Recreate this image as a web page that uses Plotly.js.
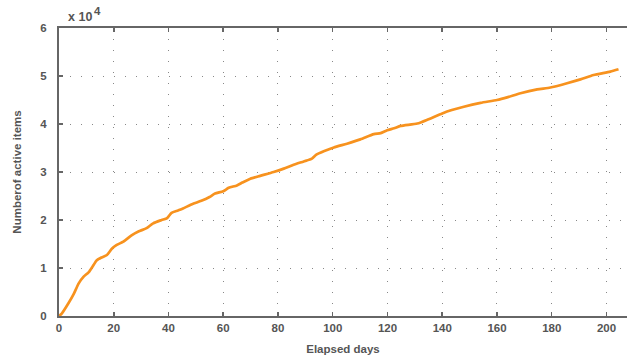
<!DOCTYPE html>
<html>
<head>
<meta charset="utf-8">
<script src="https://cdn.plot.ly/plotly-3.0.1.min.js"></script>
<style>html,body{margin:0;padding:0;background:#fff;}#chart{width:627px;height:363px;}</style>
</head>
<body>
<div id="chart"></div>
<script>
// Elapsed days and number of active items (in units of 10^4)
const elapsedDays = [0, 1, 3.5, 5.3, 7.2, 9, 10.8, 12.6, 13.8, 15.6, 17.5, 19.3, 21.1, 23.5, 26.5, 29, 32, 34.4, 37.5, 39.5, 41.1, 43.5, 45.3, 48.6, 52, 55, 57, 60, 62, 65, 67, 69.9, 73.5, 78.4, 82.1, 85.7, 89.4, 92.4, 94, 96.7, 100.4, 105.2, 110.1, 115, 117.5, 119.9, 122.4, 124.8, 130.9, 135, 140, 143.5, 147.9, 154, 160, 164, 168.6, 174.7, 179.5, 185.6, 190.5, 195.3, 201.4, 204.4];
const activeItems = [0, 0.05, 0.27, 0.45, 0.68, 0.82, 0.91, 1.06, 1.16, 1.22, 1.27, 1.40, 1.48, 1.55, 1.68, 1.76, 1.83, 1.93, 2.0, 2.04, 2.15, 2.2, 2.24, 2.33, 2.40, 2.48, 2.55, 2.6, 2.67, 2.72, 2.78, 2.86, 2.92, 3.0, 3.07, 3.15, 3.22, 3.28, 3.36, 3.43, 3.51, 3.59, 3.68, 3.79, 3.81, 3.87, 3.91, 3.96, 4.01, 4.1, 4.22, 4.29, 4.36, 4.44, 4.5, 4.56, 4.64, 4.72, 4.76, 4.85, 4.93, 5.02, 5.09, 5.14];
const xTicks = [0, 20, 40, 60, 80, 100, 120, 140, 160, 180, 200];
const yTicks = [0, 1, 2, 3, 4, 5, 6];

const gray = '#666666';
const fam = 'Liberation Sans, Arial, sans-serif';
const txt = '#555555';

const trace = {
  x: elapsedDays,
  y: activeItems,
  type: 'scatter',
  mode: 'lines',
  line: {color: '#F7921E', width: 2.7, shape: 'spline', smoothing: 0.6},
  hoverinfo: 'skip'
};

const layout = {
  width: 627, height: 363,
  margin: {l: 59, r: 0, t: 28, b: 47},
  paper_bgcolor: '#ffffff', plot_bgcolor: '#ffffff',
  showlegend: false,
  font: {family: fam, size: 11, color: txt},
  xaxis: {
    range: [0, 207.5],
    tickvals: xTicks, ticktext: xTicks.map(String),
    ticks: 'inside', ticklen: 4, tickwidth: 1.5, tickcolor: gray,
    showline: true, linecolor: gray, linewidth: 2, mirror: 'ticks',
    showgrid: true, gridcolor: '#888888', gridwidth: 1, griddash: '1px,10px',
    zeroline: false,
    tickfont: {family: fam, size: 11.5, color: txt, weight: 'bold'},
    title: {text: 'Elapsed days', font: {family: fam, size: 11.5, color: txt, weight: 'bold'}, standoff: 12}
  },
  yaxis: {
    range: [0, 6],
    tickvals: yTicks, ticktext: yTicks.map(String),
    ticks: 'inside', ticklen: 4, tickwidth: 1.5, tickcolor: gray,
    showline: true, linecolor: gray, linewidth: 2,
    showgrid: true, gridcolor: '#888888', gridwidth: 1, griddash: '1px,10px',
    zeroline: false,
    ticklabelstandoff: 8,
    tickfont: {family: fam, size: 11.5, color: txt, weight: 'bold'},
    title: {text: 'Numberof active items', font: {family: fam, size: 11.5, color: txt, weight: 'bold'}, standoff: 16}
  },
  annotations: [
    {
      text: 'x 10', xref: 'paper', yref: 'paper', x: 0, y: 1,
      xanchor: 'left', yanchor: 'bottom', xshift: 7, yshift: 2, showarrow: false,
      font: {family: fam, size: 12.5, color: txt, weight: 'bold'}
    },
    {
      text: '4', xref: 'paper', yref: 'paper', x: 0, y: 1,
      xanchor: 'left', yanchor: 'bottom', xshift: 33, yshift: 9, showarrow: false,
      font: {family: fam, size: 11.5, color: txt, weight: 'bold'}
    }
  ]
};

Plotly.newPlot('chart', [trace], layout, {displayModeBar: false, staticPlot: true});
</script>
</body>
</html>
